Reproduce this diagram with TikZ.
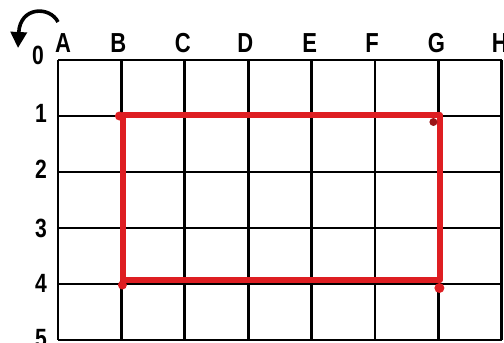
\documentclass[tikz,border=0pt]{standalone}
\usepackage{fontspec}
\usepackage{graphicx}
\setmainfont{Liberation Sans}
\usetikzlibrary{arrows.meta, positioning}
\definecolor{marker}{RGB}{222,30,34}

% tall narrow bold glyphs, as on the printed sheet
\newcommand{\gridtext}[1]{\scalebox{0.88}[1.1]{#1}}

\begin{document}
\begin{tikzpicture}[
    x=1pt, y=-1pt,
    gridline/.style={draw=black, line width=2.8pt},
    letter/.style={font=\fontsize{25}{25}\selectfont\bfseries, inner sep=0pt, anchor=base},
    digit/.style={font=\fontsize{24}{24}\selectfont\bfseries, inner sep=0pt},
    redbox/.style={draw=marker, line width=6pt, line cap=round, line join=round},
    turn/.style={-{Triangle[length=16pt, width=16pt]}, line width=3.6pt}
]
\useasboundingbox (0,0) rectangle (504,343);

% Grid points: columns A..H, rows 0..5
\foreach \c [count=\i from 0] in {A,B,C,D,E,F,G,H}
  \foreach \r in {0,...,5}
    \coordinate (\c\r) at (58+63.4*\i, 60+56*\r);

% Grid lines
\foreach \c in {A,B,C,D,E,F,G,H}
  \draw[gridline] (\c0) -- (\c5);
\foreach \r/\w in {0/2.8,1/1.8,2/2.6,3/2.6,4/2.8,5/2.8}
  \draw[gridline, line width=\w pt] (A\r) -- (H\r);

% Column letters
\foreach \c/\dx [count=\i from 0] in {A/5,B/-3,C/-2,D/-3,E/-2,F/-3,G/-2,H/-2}
  \node[letter] (col-\c) at (58+63.4*\i+\dx, 52) {\gridtext{\c}};

% Row numbers
\node[digit] (row-0) at (38,55) {\gridtext{0}};
\foreach \r/\y in {1/113,2/169,3/228,4/283,5/339}
  \node[digit] (row-\r) at (41,\y) {\gridtext{\r}};

% Turning arrow
\coordinate (turn-start) at (58,22);
\coordinate (turn-end) at (18,48);
\draw[turn] (turn-start) .. controls (50,6) and (20,6) .. (turn-end);

% Red rectangle B1--G4
\draw[redbox] ([shift={(1.5,-1)}]B1) rectangle ([shift={(1.5,-4)}]G4);
\fill[marker] ([shift={(-2,0)}]B1) circle (4.5);
\fill[marker] ([shift={(1,1)}]B4) circle (4.5);
\fill[marker!70!black] ([shift={(-5,6)}]G1) circle (4);
\fill[marker] ([shift={(1,4)}]G4) circle (5);

\end{tikzpicture}
\end{document}
